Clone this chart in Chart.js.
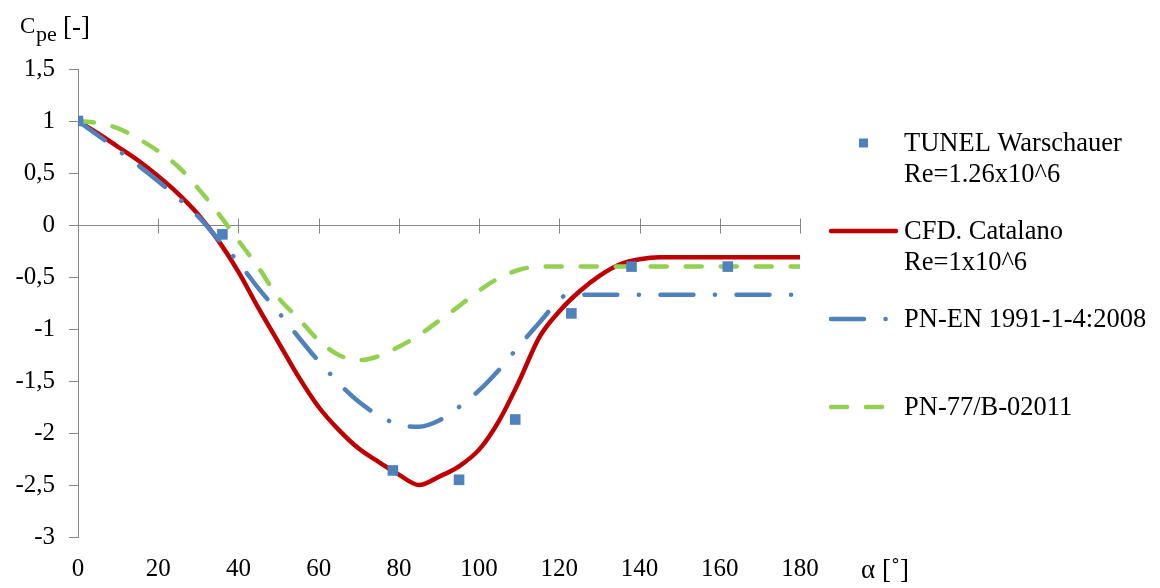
<!DOCTYPE html>
<html>
<head>
<meta charset="utf-8">
<script src="https://cdn.jsdelivr.net/npm/chart.js@4.4.1/dist/chart.umd.min.js"></script>
<style>
  html, body { margin: 0; padding: 0; background: #fff; }
  #wrap { width: 1160px; height: 588px; position: relative; }
</style>
</head>
<body>
<div id="wrap"><canvas id="cpChart"></canvas></div>
<script>
// wind tunnel points (Warschauer)
const tunelAlpha = [0, 36, 78.5, 95, 109, 123, 138, 162];
const tunelCpe = [1.00, -0.09, -2.36, -2.45, -1.87, -0.85, -0.40, -0.40];

// CFD curve (Catalano)
const cfdAlpha = [0, 5, 10, 15, 20, 25, 30, 35, 40, 45, 50, 55, 60, 65, 70, 75, 80, 85, 90, 95, 100, 105, 110, 115, 120, 125, 130, 135, 140, 145, 150, 160, 170, 180];
const cfdCpe = [1.00, 0.88, 0.75, 0.62, 0.47, 0.30, 0.10, -0.15, -0.45, -0.80, -1.13, -1.46, -1.75, -1.97, -2.15, -2.28, -2.40, -2.50, -2.42, -2.32, -2.16, -1.88, -1.50, -1.08, -0.83, -0.64, -0.49, -0.38, -0.33, -0.31, -0.31, -0.31, -0.31, -0.31];

// PN-EN 1991-1-4:2008
const enAlpha = [0, 10, 20, 30, 35, 40, 45, 50, 60, 70, 80, 85, 90, 95, 100, 105, 110, 115, 120, 122, 130, 140, 150, 160, 170, 180];
const enCpe = [1.00, 0.72, 0.42, 0.08, -0.14, -0.36, -0.61, -0.84, -1.31, -1.70, -1.92, -1.94, -1.88, -1.75, -1.59, -1.39, -1.16, -0.94, -0.72, -0.67, -0.67, -0.67, -0.67, -0.67, -0.67, -0.67];

// PN-77/B-02011
const pnAlpha = [0, 5, 10, 15, 20, 25, 30, 35, 40, 45, 50, 55, 60, 65, 70, 75, 80, 85, 90, 95, 100, 105, 110, 115, 120, 140, 160, 180];
const pnCpe = [1.00, 0.98, 0.93, 0.83, 0.71, 0.56, 0.35, 0.11, -0.15, -0.41, -0.70, -0.90, -1.11, -1.25, -1.30, -1.26, -1.17, -1.06, -0.92, -0.78, -0.63, -0.51, -0.43, -0.40, -0.40, -0.40, -0.40, -0.40];

const seriesLabels = [
  ['TUNEL Warschauer', 'Re=1.26x10^6'],
  ['CFD. Catalano', 'Re=1x10^6'],
  ['PN-EN 1991-1-4:2008'],
  ['PN-77/B-02011']
];

const fontName = '"Liberation Serif", "Times New Roman", serif';
Chart.defaults.font.family = fontName;
Chart.defaults.font.size = 25;
Chart.defaults.color = '#000';

function pts(xs, ys) {
  return xs.map((v, i) => ({ x: v, y: ys[i] }));
}

// x axis line drawn through y = 0
const zeroAxis = {
  id: 'zeroAxis',
  beforeDatasetsDraw(chart) {
    const { ctx, scales: { x, y } } = chart;
    const y0 = Math.round(y.getPixelForValue(0)) + 0.5;
    ctx.save();
    ctx.strokeStyle = '#868686';
    ctx.lineWidth = 1;
    ctx.beginPath();
    ctx.moveTo(x.left, y0);
    ctx.lineTo(x.right, y0);
    x.ticks.forEach(t => {
      const px = Math.round(x.getPixelForValue(t.value)) + 0.5;
      ctx.moveTo(px, y0 - 7);
      ctx.lineTo(px, y0 + 8);
    });
    ctx.stroke();
    ctx.restore();
  }
};

const axisTitles = {
  id: 'axisTitles',
  afterDraw(chart) {
    const ctx = chart.ctx;
    ctx.save();
    ctx.fillStyle = '#000';
    ctx.textBaseline = 'alphabetic';
    ctx.font = '23px ' + fontName;
    ctx.fillText('C', 20, 33);
    ctx.font = '22px ' + fontName;
    ctx.fillText('pe', 36, 41);
    ctx.font = '27px ' + fontName;
    ctx.fillText('[-]', 63, 35);
    ctx.fillText('\u03b1 [\u02da]', 861, 578);
    ctx.restore();
  }
};

const sideLegend = {
  id: 'sideLegend',
  afterDraw(chart) {
    const ctx = chart.ctx;
    const rows = [143, 231, 319, 407];
    const lens = [0, 65, 56, 53];
    ctx.save();
    chart.data.datasets.forEach((ds, i) => {
      const y = rows[i];
      if (ds.showLine === false) {
        ctx.fillStyle = ds.backgroundColor;
        ctx.fillRect(859, y - 4.5, 9, 9);
      } else {
        ctx.strokeStyle = ds.borderColor;
        ctx.lineWidth = ds.borderWidth;
        ctx.lineCap = 'round';
        ctx.setLineDash(ds.borderDash || []);
        ctx.beginPath();
        ctx.moveTo(831, y);
        ctx.lineTo(831 + lens[i], y);
        ctx.stroke();
        ctx.setLineDash([]);
      }
      ctx.fillStyle = '#000';
      ctx.font = '26.5px ' + fontName;
      ctx.textBaseline = 'middle';
      seriesLabels[i].forEach((t, k) => ctx.fillText(t, 904, y + 1 + k * 31));
    });
    ctx.restore();
  }
};

const lineStyle = {
  showLine: true,
  pointRadius: 0,
  borderWidth: 4.5,
  fill: false,
  cubicInterpolationMode: 'monotone',
  borderCapStyle: 'round',
  borderJoinStyle: 'round'
};

new Chart(document.getElementById('cpChart'), {
  type: 'line',
  data: {
    datasets: [
      {
        label: seriesLabels[0].join(' '),
        data: pts(tunelAlpha, tunelCpe),
        showLine: false,
        pointStyle: 'rect',
        pointRadius: 7.5,
        pointBorderWidth: 0,
        backgroundColor: '#4F81BD',
        borderColor: '#4F81BD',
        order: 1
      },
      Object.assign({
        label: seriesLabels[1].join(' '),
        data: pts(cfdAlpha, cfdCpe),
        borderColor: '#C00000',
        order: 4
      }, lineStyle),
      Object.assign({
        label: seriesLabels[2].join(' '),
        data: pts(enAlpha, enCpe),
        borderColor: '#4F81BD',
        borderDash: [33, 21.5, 0.1, 21.5],
        order: 3
      }, lineStyle),
      Object.assign({
        label: seriesLabels[3].join(' '),
        data: pts(pnAlpha, pnCpe),
        borderColor: '#92D050',
        borderDash: [16, 19],
        order: 2
      }, lineStyle)
    ]
  },
  options: {
    responsive: true,
    maintainAspectRatio: false,
    animation: false,
    layout: { padding: { left: 0, top: 69, right: 360, bottom: 0 } },
    plugins: {
      legend: { display: false },
      tooltip: { enabled: false }
    },
    scales: {
      x: {
        type: 'linear',
        min: 0,
        max: 180,
        ticks: { stepSize: 20, padding: 17, maxRotation: 0 },
        grid: { display: false, drawTicks: false },
        border: { display: false },
        afterFit(scale) { scale.height = 51; }
      },
      y: {
        min: -3,
        max: 1.5,
        ticks: {
          stepSize: 0.5,
          padding: 14,
          callback: v => String(v).replace('.', ',')
        },
        grid: { drawOnChartArea: false, drawTicks: true, tickLength: 9, color: '#868686' },
        border: { display: true, color: '#868686' },
        afterFit(scale) { scale.width = 78; }
      }
    }
  },
  plugins: [zeroAxis, axisTitles, sideLegend]
});
</script>
</body>
</html>
